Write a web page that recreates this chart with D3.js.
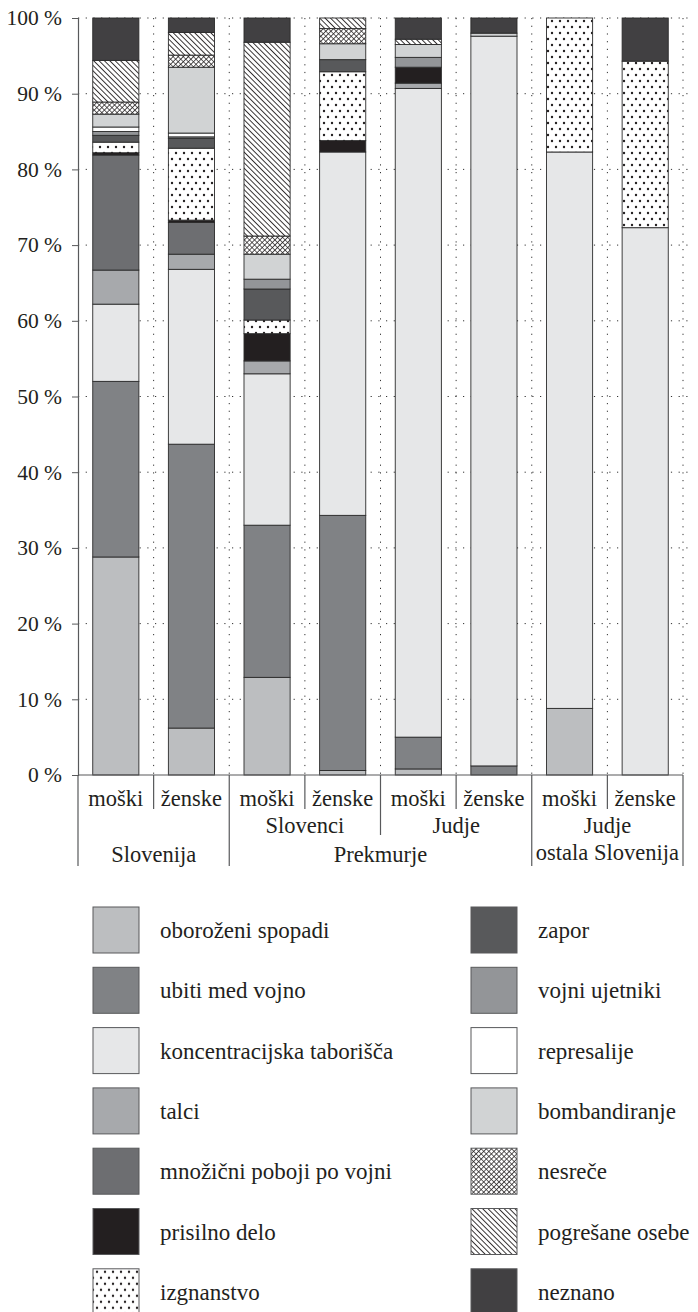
<!DOCTYPE html>
<html>
<head>
<meta charset="utf-8">
<script src="https://cdn.jsdelivr.net/npm/d3@7"></script>
<style>
  body { margin: 0; background: #fff; }
  text { font-family: "Liberation Serif", "DejaVu Serif", serif; fill: #231f20; }
</style>
</head>
<body>
<script>
// bars, left to right
const barLabels = ["moški", "ženske", "moški", "ženske", "moški", "ženske", "moški", "ženske"];
// second row of labels: [text lines, first bar, last bar]
const midGroups = [
    [["Slovenci"], 2, 3],
    [["Judje"], 4, 5],
    [["Judje", "ostala Slovenija"], 6, 7]
];
const topGroups = [["Slovenija", 0, 1], ["Prekmurje", 2, 5]];

const seriesNames = ["oboroženi spopadi", "ubiti med vojno", "koncentracijska taborišča", "talci",
    "množični poboji po vojni", "prisilno delo", "izgnanstvo", "zapor", "vojni ujetniki",
    "represalije", "bombandiranje", "nesreče", "pogrešane osebe", "neznano"];

// percentages, one value per bar
const oborozeni   = [28.8,  6.2, 12.9,  0.6,  0.8,  0.0,  8.8,  0.0];
const ubiti       = [23.2, 37.5, 20.1, 33.7,  4.2,  1.2,  0.0,  0.0];
const koncentr    = [10.2, 23.1, 20.0, 48.0, 85.7, 96.4, 73.5, 72.3];
const talci       = [ 4.5,  2.0,  1.7,  0.0,  0.7,  0.0,  0.0,  0.0];
const mnozicni    = [15.2,  4.2,  0.0,  0.0,  0.0,  0.0,  0.0,  0.0];
const prisilno    = [ 0.3,  0.3,  3.6,  1.5,  2.1,  0.0,  0.0,  0.0];
const izgnanstvo  = [ 1.4,  9.5,  1.8,  9.1,  0.0,  0.0, 17.7, 22.0];
const zapor       = [ 0.9,  1.3,  4.1,  1.6,  0.0,  0.0,  0.0,  0.0];
const ujetniki    = [ 0.5,  0.2,  1.3,  0.0,  1.3,  0.0,  0.0,  0.0];
const represalije = [ 0.6,  0.5,  0.0,  0.0,  0.0,  0.0,  0.0,  0.0];
const bombard     = [ 1.7,  8.7,  3.3,  2.1,  1.7,  0.4,  0.0,  0.0];
const nesrece     = [ 1.6,  1.6,  2.4,  2.0,  0.0,  0.0,  0.0,  0.0];
const pogresane   = [ 5.5,  3.0, 25.6,  1.4,  0.7,  0.0,  0.0,  0.0];
const neznano     = [ 5.6,  1.9,  3.2,  0.0,  2.8,  2.0,  0.0,  5.7];

const yTicks = [0, 10, 20, 30, 40, 50, 60, 70, 80, 90, 100];

const seriesValues = [oborozeni, ubiti, koncentr, talci, mnozicni, prisilno, izgnanstvo,
    zapor, ujetniki, represalije, bombard, nesrece, pogresane, neznano];

const fills = ["#bcbec0", "#808285", "#e6e7e8", "#a7a9ac", "#6d6e71", "#231f20", "url(#dots)",
    "#58595b", "#939598", "#ffffff", "#d1d3d4", "url(#cross)", "url(#diag)", "#414042"];

const width = 698, height = 1312;
const plotLeft = 78, plotRight = 683, plotTop = 18, plotBottom = 775;
const tickFont = 21.5, catFont = 22.5, legendFont = 23;

const svg = d3.select("body").append("svg")
    .attr("width", width)
    .attr("height", height);

// patterns
const defs = svg.append("defs");

const dots = defs.append("pattern")
    .attr("id", "dots")
    .attr("patternUnits", "userSpaceOnUse")
    .attr("width", 16).attr("height", 12);
dots.append("rect").attr("width", 16).attr("height", 12).attr("fill", "#fff");
[[4, 3], [12, 3], [0, 9], [8, 9], [16, 9]].forEach(p => {
    dots.append("circle").attr("cx", p[0]).attr("cy", p[1]).attr("r", 1.2).attr("fill", "#231f20");
});

const cross = defs.append("pattern")
    .attr("id", "cross")
    .attr("patternUnits", "userSpaceOnUse")
    .attr("width", 3.6).attr("height", 3.6)
    .attr("patternTransform", "rotate(45)");
cross.append("rect").attr("width", 3.6).attr("height", 3.6).attr("fill", "#fff");
cross.append("path").attr("d", "M0,0V3.6M0,0H3.6")
    .attr("stroke", "#231f20").attr("stroke-width", 1.5);

const diag = defs.append("pattern")
    .attr("id", "diag")
    .attr("patternUnits", "userSpaceOnUse")
    .attr("width", 3.8).attr("height", 3.8)
    .attr("patternTransform", "rotate(-45)");
diag.append("rect").attr("width", 3.8).attr("height", 3.8).attr("fill", "#fff");
diag.append("line").attr("x1", 0.5).attr("y1", 0).attr("x2", 0.5).attr("y2", 3.8)
    .attr("stroke", "#231f20").attr("stroke-width", 0.9);

// scales
const x = d3.scaleBand()
    .domain(d3.range(barLabels.length))
    .range([plotLeft, plotRight])
    .paddingInner(0.39)
    .paddingOuter(0.195);

const y = d3.scaleLinear().domain([0, 100]).range([plotBottom, plotTop]);

const step = x.step();
const edge = i => plotLeft + i * step;

// grid
const grid = svg.append("g")
    .attr("stroke", "#333")
    .attr("stroke-width", 1)
    .attr("stroke-dasharray", "1.2,6.5");

grid.selectAll(".hgrid")
    .data(yTicks.filter(t => t > 0))
    .enter().append("line")
    .attr("x1", plotLeft).attr("x2", plotRight + 6)
    .attr("y1", d => y(d)).attr("y2", d => y(d));

grid.selectAll(".vgrid")
    .data(d3.range(1, barLabels.length + 1))
    .enter().append("line")
    .attr("x1", d => edge(d)).attr("x2", d => edge(d))
    .attr("y1", plotTop).attr("y2", plotBottom);

// stacked bars
const table = barLabels.map((b, i) => {
    const row = {};
    seriesNames.forEach((s, j) => row[s] = seriesValues[j][i]);
    return row;
});

const stacked = d3.stack().keys(seriesNames)(table);

const layers = svg.append("g").selectAll("g")
    .data(stacked)
    .enter().append("g")
    .attr("fill", (d, i) => fills[i]);

layers.selectAll("rect")
    .data(d => d.map((v, i) => ({v, i})).filter(e => e.v[1] - e.v[0] > 0))
    .enter().append("rect")
    .attr("x", d => x(d.i))
    .attr("width", x.bandwidth())
    .attr("y", d => y(d.v[1]))
    .attr("height", d => y(d.v[0]) - y(d.v[1]))
    .attr("stroke", "#2b2b2b")
    .attr("stroke-width", 0.9);

// y axis
const yAxis = svg.append("g")
    .attr("transform", `translate(${plotLeft},0)`)
    .call(d3.axisLeft(y).tickValues(yTicks).tickSize(6).tickPadding(10)
        .tickFormat(d => d + " %"));
yAxis.select(".domain").attr("stroke", "#58595b").attr("stroke-width", 1.2);
yAxis.selectAll(".tick line").attr("stroke", "#58595b");
yAxis.selectAll("text")
    .attr("font-size", tickFont)
    .attr("font-family", "Liberation Serif, DejaVu Serif, serif")
    .attr("fill", "#231f20");

// category axis
const cat = svg.append("g").attr("stroke", "#58595b").attr("stroke-width", 1.2);
cat.append("line").attr("x1", plotLeft).attr("x2", plotRight).attr("y1", plotBottom).attr("y2", plotBottom);

const sepBottom = i => {
    if (i === 0 || i === 2 || i === 6 || i === 8) return 866;
    if (i === 4) return 835;
    return 809;
};
cat.selectAll(".sep")
    .data(d3.range(0, barLabels.length + 1))
    .enter().append("line")
    .attr("x1", d => edge(d)).attr("x2", d => edge(d))
    .attr("y1", plotBottom).attr("y2", d => sepBottom(d));

svg.append("g").selectAll("text")
    .data(barLabels)
    .enter().append("text")
    .attr("x", (d, i) => x(i) + x.bandwidth() / 2)
    .attr("y", 806)
    .attr("text-anchor", "middle")
    .attr("font-size", catFont)
    .text(d => d);

midGroups.forEach(g => {
    g[0].forEach((line, k) => {
        svg.append("text")
            .attr("x", (edge(g[1]) + edge(g[2] + 1)) / 2)
            .attr("y", 833 + k * 27)
            .attr("text-anchor", "middle")
            .attr("font-size", catFont)
            .text(line);
    });
});

topGroups.forEach(g => {
    svg.append("text")
        .attr("x", (edge(g[1]) + edge(g[2] + 1)) / 2)
        .attr("y", 862)
        .attr("text-anchor", "middle")
        .attr("font-size", catFont)
        .text(g[0]);
});

// legend
const perCol = 7;
const legend = svg.append("g").selectAll("g")
    .data(seriesNames)
    .enter().append("g")
    .attr("transform", (d, i) => `translate(${i < perCol ? 93 : 471},${907 + (i % perCol) * 60.3})`);

legend.append("rect")
    .attr("width", 46).attr("height", 46)
    .attr("fill", (d, i) => fills[i])
    .attr("stroke", "#58595b")
    .attr("stroke-width", 1);

legend.append("text")
    .attr("x", 67)
    .attr("y", 31)
    .attr("font-size", legendFont)
    .text(d => d);
</script>
</body>
</html>
